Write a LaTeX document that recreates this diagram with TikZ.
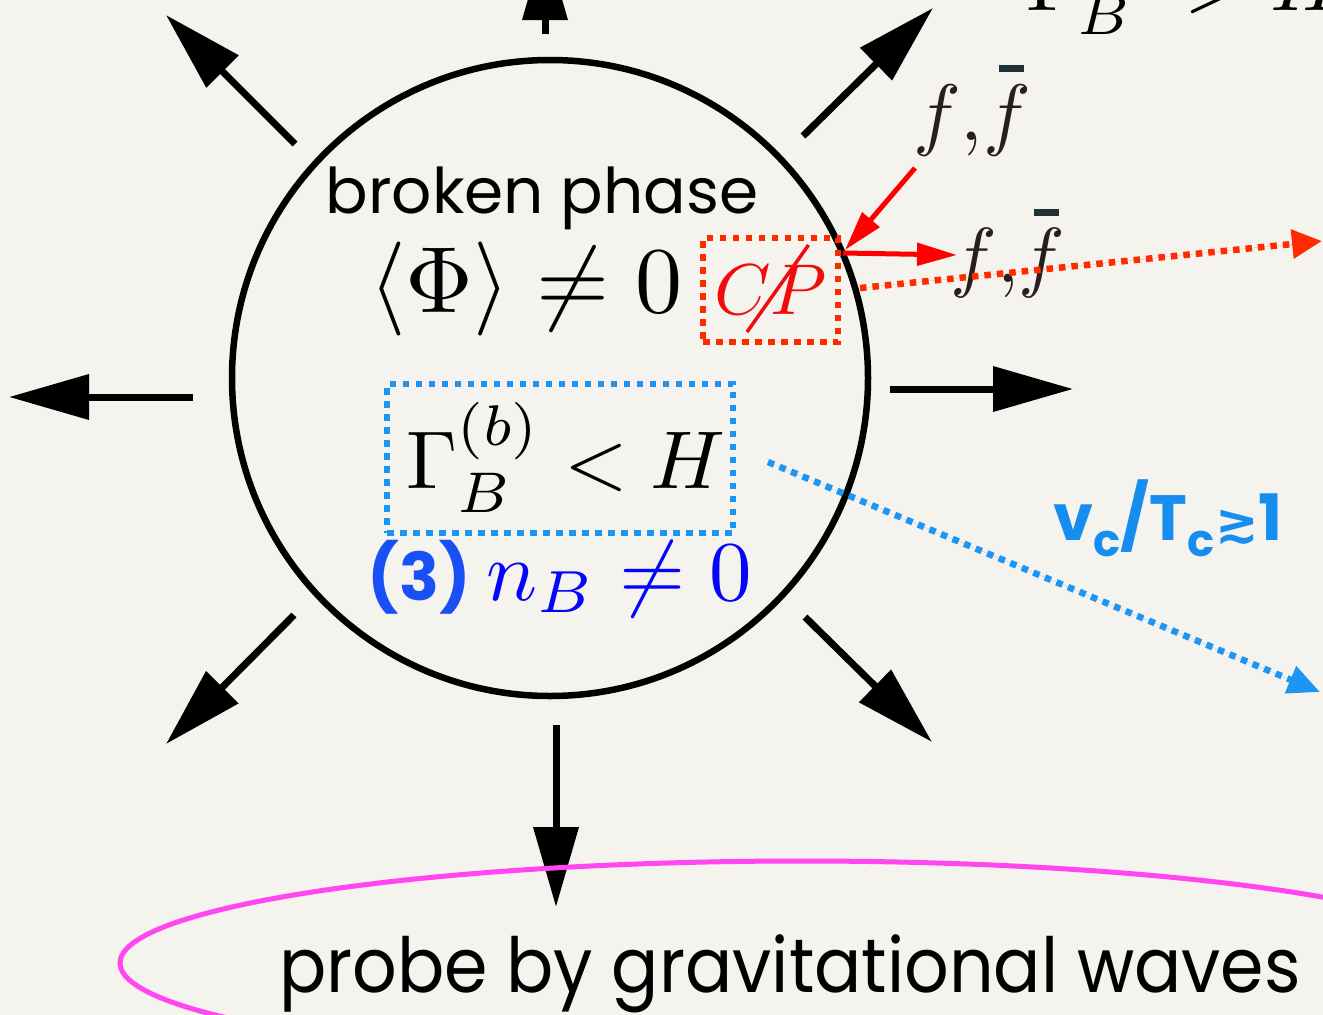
\documentclass[tikz,border=0pt]{standalone}
\usepackage{graphicx}
\usepackage{amsmath,amssymb}
\usepackage{fontspec}
\newfontfamily\popfont{Poppins}
\newfontfamily\popnarrow[FakeStretch=0.92]{Poppins}
\newfontfamily\djvfont{DejaVu Sans}
\usetikzlibrary{arrows.meta,shapes.geometric,calc}
\definecolor{paper}{RGB}{245,243,238}
\definecolor{cpred}{RGB}{240,12,12}
\definecolor{dotred}{RGB}{255,42,0}
\definecolor{dotblue}{RGB}{28,150,242}
\definecolor{vcblue}{RGB}{22,142,240}
\definecolor{nbblue}{RGB}{5,5,250}
\definecolor{threeblue}{RGB}{25,80,245}
\definecolor{gwpink}{RGB}{255,70,240}
\definecolor{fdark}{RGB}{40,30,30}
\definecolor{barcol}{RGB}{30,50,55}
\newcommand{\fbarred}{\rlap{\hspace{0.2em}\raisebox{0.85em}{\textcolor{barcol}{\rule{0.31em}{0.09em}}}}f}
\begin{document}
\begin{tikzpicture}[x=1pt,y=-1pt,
  bigarr/.style={line width=7pt,-{Triangle[length=80pt,width=44pt]}},
  redarr/.style={line width=5pt,draw=red,-{Triangle[length=40pt,width=22pt]}},
  dotline/.style={line width=6.5pt,dash pattern=on 6.5pt off 6pt},
  dotbox/.style={draw,line width=6.5pt,dash pattern=on 6.5pt off 6.5pt,inner sep=0pt},
  mathtxt/.style={inner sep=0pt,anchor=base}]
\useasboundingbox (0,0) rectangle (1323,1015);
\clip (0,0) rectangle (1323,1015);
\fill[paper] (0,0) rectangle (1323,1015);

% bubble
\node[draw,circle,line width=6.5pt,minimum size=636pt,inner sep=0pt] (bubble) at (550,378) {};

% arrow coordinates
\coordinate (uS) at (545,34);   \coordinate (uE) at (545,-60);
\coordinate (dS) at (556,725);  \coordinate (dE) at (556,907);
\coordinate (lS) at (193,397);  \coordinate (lE) at (9,397);
\coordinate (rS) at (890,389);  \coordinate (rE) at (1073,389);
\coordinate (ulS) at (295,144); \coordinate (ulE) at (166,15);
\coordinate (urS) at (803,136); \coordinate (urE) at (933,8);
\coordinate (llS) at (294,615); \coordinate (llE) at (166,744);
\coordinate (lrS) at (805,617); \coordinate (lrE) at (932,742);
\draw[bigarr] (uS) -- (uE);
\draw[bigarr] (dS) -- (dE);
\draw[bigarr] (lS) -- (lE);
\draw[bigarr] (rS) -- (rE);
\draw[bigarr] (ulS) -- (ulE);
\draw[bigarr] (urS) -- (urE);
\draw[bigarr] (llS) -- (llE);
\draw[bigarr] (lrS) -- (lrE);

% texts inside bubble
\node[inner sep=0pt,anchor=base,font=\popfont\fontsize{63pt}{68pt}\selectfont] (broken) at (542,213) {broken phase};
\node[mathtxt] (vev) at (526,312) {\scalebox{9.4}{$\langle\Phi\rangle\neq0$}};

% CP box
\node[dotbox,draw=dotred,minimum width=135pt,minimum height=104pt,text=cpred] (cpbox) at (770.5,290) {\scalebox{7.2}{$CP$}};
\draw[cpred,line width=3.5pt] ($(cpbox.center)+(38,-45)$) coordinate (slA) -- ($(cpbox.center)+(-23.5,42)$) coordinate (slB);

% red arrows and labels
\coordinate (hit) at (845,250);
\coordinate (inS) at (915,168);
\coordinate (outS) at (843,253);
\coordinate (outE) at (957,255);
\draw[redarr] (inS) -- (hit);
\draw[redarr] (outS) -- (outE);
\node[mathtxt,text=fdark] (ff1) at (972,140) {\scalebox{8.0}{$f{,}\fbarred$}};
\node[mathtxt,text=fdark] (ff2) at (1008,282) {\scalebox{7.8}{$f{,}\fbarred$}};

% red dotted arrow
\coordinate (rdS) at (860,288);
\coordinate (rdE) at (1322,241);
\draw[dotline,draw=dotred,fill=dotred,-{Triangle[length=30pt,width=28pt]}] (rdS) -- (rdE);

% blue box
\node[dotbox,draw=dotblue,minimum width=346pt,minimum height=149pt] (bbox) at (560,458.5) {};
\node[mathtxt] (gam) at (566,488) {\scalebox{8.2}{$\Gamma_B^{(b)}<H$}};
\node[inner sep=0pt,anchor=base] (nb) at (560,600) {{\popfont\bfseries\fontsize{66pt}{70pt}\selectfont\color{threeblue}(3)}\hspace{16pt}{\color{nbblue}\scalebox{8.5}{$n_B\neq0$}}};

% blue dotted arrow
\coordinate (bdS) at (768,462);
\coordinate (bdE) at (1320,692);
\draw[dotline,draw=dotblue,fill=dotblue,-{Triangle[length=32pt,width=28pt]}] (bdS) -- (bdE);
\node[inner sep=0pt,anchor=base,text=vcblue,font=\popfont\bfseries\fontsize{64pt}{70pt}\selectfont] (vc) at (1168,540) {v\textsubscript{c}/T\textsubscript{c}{\djvfont\bfseries\fontsize{52pt}{60pt}\selectfont ≳}1};

% top (cut) label
\node[inner sep=0pt,anchor=base west] (gamtop) at (1026,10) {\scalebox{8.2}{$\Gamma_B^{\phantom{(b)}}>H$}};

% gravitational waves ellipse
\node[draw=gwpink,ellipse,line width=5pt,minimum width=1364pt,minimum height=204pt,inner sep=0pt] (gw) at (802,963) {};
\node[inner sep=0pt,anchor=base,font=\popnarrow\fontsize{76pt}{80pt}\selectfont] (probe) at (790,992) {probe by gravitational waves};
\end{tikzpicture}
\end{document}
